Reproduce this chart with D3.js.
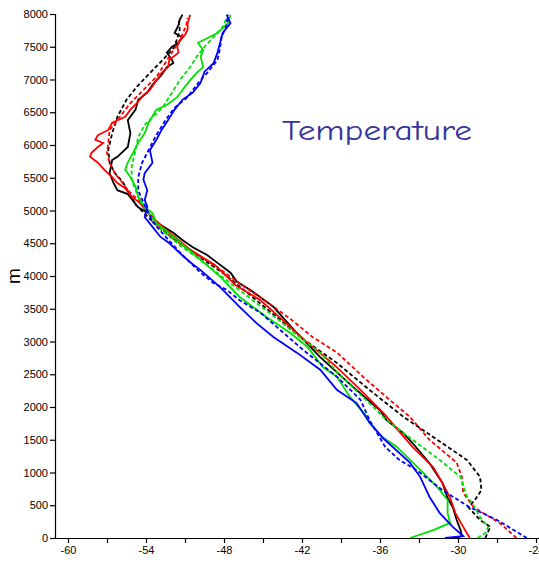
<!DOCTYPE html>
<html>
<head>
<meta charset="utf-8">
<script src="https://cdn.jsdelivr.net/npm/d3@7"></script>
<style>
  body { margin: 0; background: #fff; }
  .tick text { font-family: "Liberation Sans", Arial, sans-serif; font-size: 11px; }
</style>
</head>
<body>
<svg class="profileSVG"></svg>
<script>
var blackSolid = [[-30.2,0],[-29.7,30],[-29.8,120],[-30.1,275],[-30.4,470],[-30.8,610],[-31.2,840],[-32.2,1145],[-33.5,1450],[-34.2,1600],[-35.5,1800],[-36.0,1950],[-38.1,2310],[-40.6,2760],[-42.4,3130],[-44.2,3530],[-46.0,3790],[-47.0,3910],[-47.5,4050],[-48.5,4200],[-49.3,4320],[-50.4,4440],[-51.2,4550],[-51.9,4660],[-53.1,4810],[-53.8,4960],[-54.6,5050],[-55.4,5250],[-56.2,5310],[-56.5,5420],[-56.8,5570],[-56.6,5770],[-56.2,5820],[-55.4,5970],[-55.2,6180],[-55.4,6380],[-54.8,6540],[-54.6,6690],[-53.9,6800],[-53.5,6920],[-52.8,7070],[-52.4,7190],[-51.9,7250],[-52.0,7300],[-52.4,7410],[-52.0,7500],[-51.5,7560],[-51.2,7640],[-51.8,7710],[-51.5,7830],[-51.4,7910],[-51.2,7990]];
var blackDash = [[-27.9,0],[-27.7,90],[-27.5,170],[-28.3,275],[-29.2,470],[-28.7,580],[-28.2,730],[-28.3,930],[-29.3,1190],[-31.6,1500],[-34.2,1850],[-36.8,2260],[-39.3,2670],[-41.8,3020],[-44.1,3400],[-46.0,3710],[-47.9,4020],[-49.8,4280],[-51.4,4500],[-52.9,4730],[-53.8,4890],[-54.8,5090],[-55.8,5440],[-56.4,5570],[-56.8,5730],[-56.9,5930],[-56.6,6180],[-56.2,6430],[-55.5,6690],[-54.7,6890],[-53.7,7100],[-52.7,7300],[-51.8,7500],[-51.4,7760],[-51.5,7940]];
var redSolid = [[-29.1,0],[-29.6,170],[-30.2,380],[-30.6,610],[-31.2,840],[-31.9,1080],[-33.5,1390],[-34.5,1620],[-35.6,1880],[-37.5,2260],[-39.5,2640],[-41.8,3020],[-43.5,3330],[-45.2,3630],[-47.1,3860],[-48.7,4170],[-50.6,4400],[-52.7,4750],[-53.7,4930],[-54.5,5120],[-55.1,5210],[-55.6,5340],[-56.2,5420],[-56.6,5510],[-57.2,5620],[-57.7,5730],[-58.3,5820],[-58.2,5880],[-57.7,5970],[-57.3,6030],[-57.9,6080],[-57.7,6150],[-56.9,6230],[-56.6,6340],[-55.6,6430],[-55.2,6540],[-54.7,6640],[-54.2,6760],[-53.7,6840],[-53.2,6990],[-52.8,7100],[-52.3,7190],[-52.2,7300],[-51.5,7410],[-51.6,7500],[-51.4,7600],[-51.0,7680],[-50.8,7760],[-50.8,7860],[-50.6,7990]];
var redDash = [[-25.5,0],[-26.8,230],[-28.8,470],[-29.6,690],[-29.7,930],[-30.1,1150],[-32.2,1500],[-33.7,1850],[-35.5,2150],[-37.3,2460],[-39.3,2830],[-41.2,3070],[-42.8,3330],[-44.6,3590],[-46.4,3830],[-48.2,4090],[-50.0,4320],[-51.8,4550],[-53.1,4780],[-53.8,4980],[-54.6,5160],[-55.4,5310],[-55.8,5420],[-56.4,5570],[-56.8,5730],[-57.0,5880],[-56.9,6030],[-56.8,6230],[-56.2,6380],[-55.2,6640],[-54.2,6840],[-53.2,7040],[-52.2,7350],[-51.4,7600],[-50.9,7830],[-50.8,7940]];
var greenSolid = [[-33.7,0],[-31.9,120],[-30.6,230],[-30.8,380],[-30.8,580],[-31.6,780],[-32.9,1040],[-34.7,1390],[-35.8,1540],[-36.8,1760],[-37.0,1850],[-38.3,2150],[-39.3,2460],[-40.4,2610],[-41.6,2920],[-42.9,3130],[-44.7,3370],[-46.8,3680],[-48.3,3990],[-50.4,4350],[-51.9,4600],[-53.2,4810],[-53.5,4960],[-54.1,5050],[-54.6,5210],[-54.8,5360],[-55.2,5510],[-55.6,5620],[-55.4,5730],[-55.0,5880],[-54.6,6030],[-54.1,6180],[-53.8,6340],[-53.2,6540],[-52.4,6610],[-51.6,6730],[-51.2,6840],[-50.6,6990],[-50.1,7100],[-49.6,7190],[-49.8,7350],[-49.6,7450],[-50.0,7560],[-49.6,7600],[-48.5,7710],[-47.7,7860],[-47.5,7990]];
var greenDash = [[-28.5,0],[-27.8,90],[-27.7,170],[-28.3,320],[-28.9,530],[-29.3,630],[-29.8,930],[-31.4,1190],[-33.5,1500],[-35.5,1800],[-37.3,2150],[-39.1,2490],[-40.6,2830],[-42.2,3070],[-43.8,3330],[-45.6,3600],[-47.5,3890],[-49.5,4200],[-51.4,4470],[-52.8,4700],[-53.7,4930],[-54.5,5160],[-54.8,5310],[-55.1,5470],[-55.1,5670],[-54.8,5930],[-54.6,6120],[-54.1,6310],[-53.3,6460],[-52.7,6580],[-52.0,6800],[-51.4,6990],[-50.6,7190],[-50.1,7350],[-49.5,7500],[-48.8,7650],[-48.1,7800],[-47.8,7940]];
var blueSolid = [[-31.0,0],[-29.6,30],[-30.4,170],[-31.4,380],[-32.2,630],[-32.9,930],[-33.7,1150],[-35.8,1530],[-36.8,1760],[-37.8,2060],[-39.3,2260],[-40.6,2570],[-42.4,2830],[-44.2,3070],[-45.5,3280],[-46.8,3530],[-48.3,3830],[-49.8,4090],[-50.6,4210],[-51.4,4350],[-52.2,4500],[-52.9,4600],[-53.5,4750],[-54.1,4900],[-53.9,5060],[-54.1,5160],[-53.9,5310],[-54.2,5470],[-54.1,5570],[-53.5,5730],[-53.7,5920],[-53.2,6080],[-52.8,6230],[-52.3,6380],[-51.8,6540],[-51.2,6690],[-50.4,6800],[-49.8,6950],[-49.5,7120],[-48.8,7250],[-48.5,7410],[-48.3,7560],[-48.1,7710],[-47.5,7860],[-47.8,7990]];
var blueDash = [[-24.7,0],[-27.0,275],[-29.1,470],[-31.2,730],[-33.2,1040],[-34.5,1190],[-35.6,1390],[-36.8,1800],[-37.5,2110],[-39.3,2460],[-41.9,2870],[-43.7,3180],[-45.2,3440],[-46.8,3630],[-47.8,3790],[-48.8,3890],[-49.8,4050],[-51.2,4320],[-52.5,4600],[-53.5,4830],[-53.8,4960],[-54.2,5120],[-54.6,5310],[-54.6,5510],[-54.3,5730],[-53.8,5920],[-53.3,6120],[-52.5,6380],[-51.8,6570],[-50.8,6730],[-50.4,6840],[-49.8,6990],[-49.3,7100],[-48.5,7300],[-48.3,7480],[-48.2,7640],[-47.8,7830],[-47.7,7990]];

//2. series list, ticks and title
var seriesList = [
  { values: blackSolid, color: "#000000", dashed: false },
  { values: blackDash,  color: "#000000", dashed: true },
  { values: redSolid,   color: "#ff0000", dashed: false },
  { values: redDash,    color: "#ff0000", dashed: true },
  { values: greenSolid, color: "#00e000", dashed: false },
  { values: greenDash,  color: "#00e000", dashed: true },
  { values: blueSolid,  color: "#0000ff", dashed: false },
  { values: blueDash,   color: "#0000ff", dashed: true }
];
var xTicks = [-60, -57, -54, -51, -48, -45, -42, -39, -36, -33, -30, -27, -24];
var xLabels = [-60, -54, -48, -42, -36, -30, -24];
var yTicks = d3.range(0, 8001, 500);
var yTitle = "m";
var chartTitle = "Temperature";

//3. dims
var width = 539, height = 563;
var margin = { left: 55, top: 14, bottom: 25 };

const svgObj = d3.select(".profileSVG")
  .attr("width", width)
  .attr("height", height);

//4. scales
var xScale = d3.scaleLinear().domain([-61, -24]).range([margin.left, 536]);
var yScale = d3.scaleLinear().domain([0, 8000]).range([height - margin.bottom, margin.top]);

//5. axes
const xAxis = d3.axisBottom(xScale)
  .tickValues(xTicks)
  .tickSize(5)
  .tickFormat(d => xLabels.indexOf(d) > -1 ? d : "");

const yAxis = d3.axisLeft(yScale)
  .tickValues(yTicks)
  .tickSize(5)
  .tickPadding(2)
  .tickFormat(d3.format("d"));

svgObj.append("g")
  .attr("transform", `translate(0,${yScale(0)})`)
  .call(xAxis)
  .call(g => g.select(".domain").attr("d", `M${margin.left},0.5H${width}`));

svgObj.append("g")
  .attr("transform", `translate(${margin.left},0)`)
  .call(yAxis)
  .call(g => g.select(".domain").attr("d", `M0.5,${yScale(8000)}V${yScale(0)}`));

svgObj.selectAll(".domain, .tick line").attr("stroke", "#000").attr("stroke-width", 1.2);
svgObj.selectAll(".tick text").attr("fill", "#000");

//6. profile lines
var lineFn = d3.line()
  .x(d => xScale(d[0]))
  .y(d => yScale(d[1]));

svgObj.append("g")
  .attr("class", "profiles")
  .selectAll("path")
  .data(seriesList)
  .enter().append("path")
  .attr("d", d => lineFn(d.values))
  .attr("fill", "none")
  .attr("stroke", d => d.color)
  .attr("stroke-width", 1.8)
  .attr("stroke-dasharray", d => d.dashed ? "4,2.5" : null);

//7. texts
svgObj.append("text")
  .attr("transform", `translate(20,${yScale(4000)}) rotate(-90)`)
  .attr("text-anchor", "middle")
  .style("font-family", "'Liberation Sans', Arial, sans-serif")
  .style("font-size", "19px")
  .text(yTitle);

svgObj.append("text")
  .attr("x", 282)
  .attr("y", 140)
  .attr("textLength", 190)
  .attr("lengthAdjust", "spacingAndGlyphs")
  .attr("fill", "#34349c")
  .style("font-family", "'Comic Sans MS', 'Comic Neue', 'DejaVu Sans', sans-serif")
  .style("font-size", "28px")
  .text(chartTitle);
</script>
</body>
</html>
